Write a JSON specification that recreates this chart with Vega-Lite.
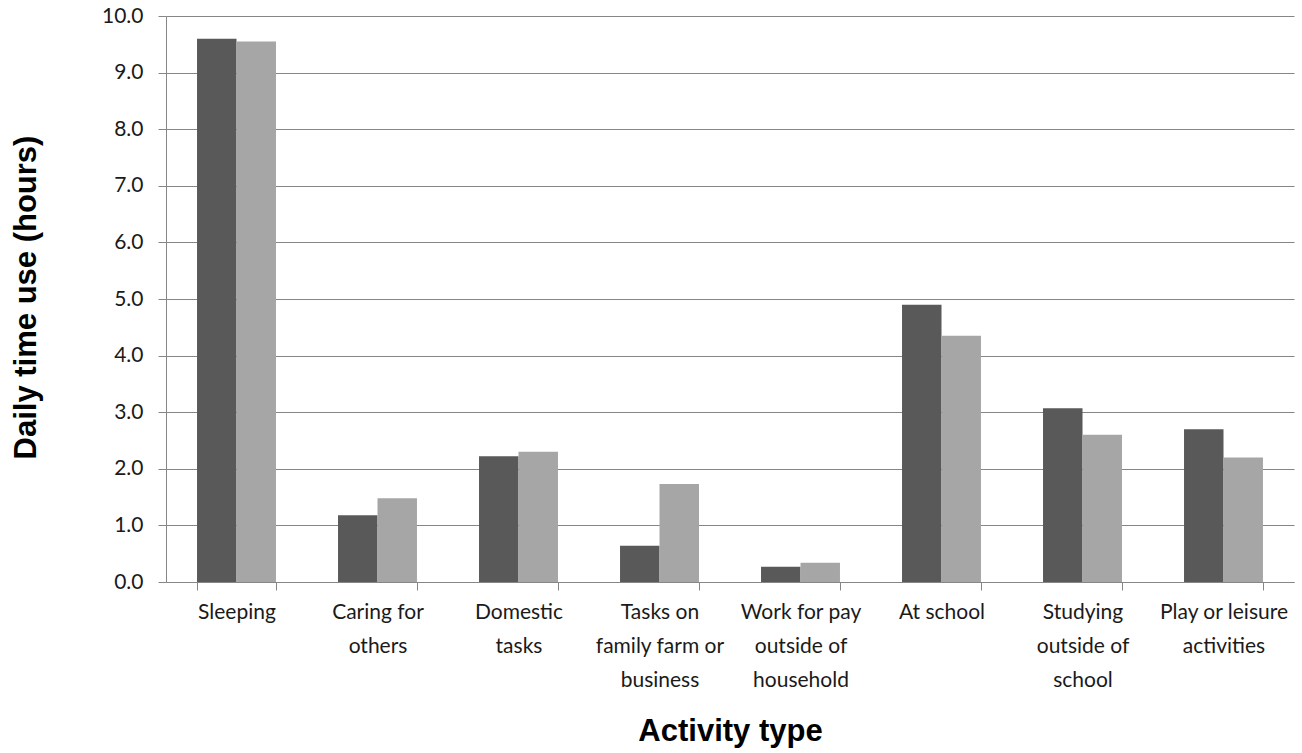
{
  "$schema": "https://vega.github.io/schema/vega-lite/v6.json",
  "width": 1128,
  "height": 566,
  "autosize": {"type": "none"},
  "padding": {"left": 166, "top": 16, "right": 8, "bottom": 171},
  "background": "white",
  "config": {
    "view": {"stroke": null},
    "font": "Lato"
  },
  "data": {
    "values": [
      {"activity": "Sleeping", "series": "Series 1", "hours": 9.6},
      {"activity": "Sleeping", "series": "Series 2", "hours": 9.55},
      {"activity": "Caring for|others", "series": "Series 1", "hours": 1.18},
      {"activity": "Caring for|others", "series": "Series 2", "hours": 1.48},
      {"activity": "Domestic|tasks", "series": "Series 1", "hours": 2.22},
      {"activity": "Domestic|tasks", "series": "Series 2", "hours": 2.3},
      {"activity": "Tasks on|family farm or|business", "series": "Series 1", "hours": 0.64},
      {"activity": "Tasks on|family farm or|business", "series": "Series 2", "hours": 1.73},
      {"activity": "Work for pay|outside of|household", "series": "Series 1", "hours": 0.27},
      {"activity": "Work for pay|outside of|household", "series": "Series 2", "hours": 0.34},
      {"activity": "At school", "series": "Series 1", "hours": 4.9},
      {"activity": "At school", "series": "Series 2", "hours": 4.35},
      {"activity": "Studying|outside of|school", "series": "Series 1", "hours": 3.07},
      {"activity": "Studying|outside of|school", "series": "Series 2", "hours": 2.6},
      {"activity": "Play or leisure|activities", "series": "Series 1", "hours": 2.7},
      {"activity": "Play or leisure|activities", "series": "Series 2", "hours": 2.2}
    ]
  },
  "mark": {"type": "bar"},
  "encoding": {
    "x": {
      "field": "activity",
      "type": "nominal",
      "sort": null,
      "scale": {"paddingInner": 0.44, "paddingOuter": 0.22},
      "axis": {
        "title": "Activity type",
        "titleFont": "Liberation Sans",
        "titleFontSize": 31,
        "titleFontWeight": "bold",
        "titleColor": "#000000",
        "titleX": 564,
        "titleY": 149,
        "titleAlign": "center",
        "titleBaseline": "middle",
        "labelExpr": "split(datum.label, '|')",
        "labelAngle": 0,
        "labelFont": "Lato",
        "labelFontSize": 21,
        "labelColor": "#1a1a1a",
        "labelLineHeight": 34,
        "labelBaseline": "alphabetic",
        "labelPadding": 28,
        "tickBand": "extent",
        "tickSize": 8,
        "tickColor": "#868686",
        "domainColor": "#868686",
        "grid": false
      }
    },
    "xOffset": {
      "field": "series",
      "type": "nominal",
      "scale": {"paddingInner": 0, "paddingOuter": 0}
    },
    "y": {
      "field": "hours",
      "type": "quantitative",
      "scale": {"domain": [0, 10], "nice": false},
      "axis": {
        "title": "Daily time use (hours)",
        "titleFont": "Liberation Sans",
        "titleFontSize": 31,
        "titleFontWeight": "bold",
        "titleColor": "#000000",
        "titleX": -140,
        "titleY": 281,
        "titleAlign": "center",
        "titleBaseline": "middle",
        "titleAngle": -90,
        "values": [0, 1, 2, 3, 4, 5, 6, 7, 8, 9, 10],
        "format": ".1f",
        "labelFont": "Lato",
        "labelFontSize": 21,
        "labelColor": "#1a1a1a",
        "labelPadding": 15,
        "tickSize": 8,
        "tickColor": "#868686",
        "domainColor": "#868686",
        "gridColor": "#868686",
        "gridOpacity": 1
      }
    },
    "color": {
      "field": "series",
      "type": "nominal",
      "scale": {"range": ["#595959", "#a6a6a6"]},
      "legend": null
    }
  }
}
